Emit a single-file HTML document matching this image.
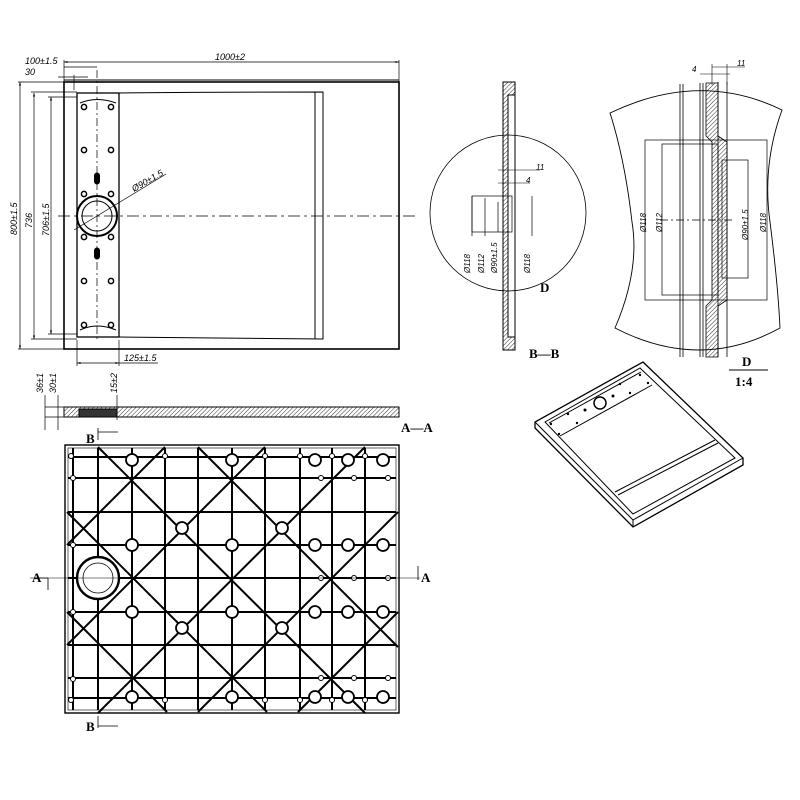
<!DOCTYPE html>
<html><head><meta charset="utf-8"><style>
html,body{margin:0;padding:0;background:#fff}
svg{display:block}
text{font-family:"Liberation Sans",sans-serif;font-style:italic;fill:#000}
.b{font-family:"Liberation Serif",serif;font-style:normal;font-weight:bold}
</style></head><body>
<svg width="800" height="800" viewBox="0 0 800 800" xmlns="http://www.w3.org/2000/svg">
<defs>
<pattern id="h" width="3" height="3" patternUnits="userSpaceOnUse" patternTransform="rotate(45)"><line x1="0" y1="0" x2="0" y2="3" stroke="#000" stroke-width="0.8"/></pattern>
<marker id="a" viewBox="0 0 10 10" refX="10" refY="5" markerWidth="5" markerHeight="5" orient="auto-start-reverse"><path d="M0,2 L10,5 L0,8z" fill="#000"/></marker>
</defs>
<g fill="none" stroke="#000" stroke-width="1">
<!-- TOP VIEW -->
<rect x="64" y="82" width="335" height="267" stroke-width="1.6"/>
<line x1="64" y1="80" x2="399" y2="80"/>
<rect x="77" y="93" width="42" height="244" stroke-width="1.3"/>
<path d="M119,93 Q220,92 323,92 L323,339 Q220,338 119,337"/>
<line x1="315" y1="92" x2="315" y2="339"/>
<path d="M80,103 Q97,96 116,103 M80,330 Q97,322 116,330"/>
<line x1="97" y1="70" x2="97" y2="340" stroke-dasharray="8,3,2,3" stroke-width="0.7"/>
<line x1="58" y1="216" x2="415" y2="216" stroke-dasharray="12,4,3,4" stroke-width="0.7"/>
<circle cx="97" cy="216" r="20" stroke-width="2"/>
<circle cx="97" cy="216" r="15"/>
<g fill="#fff" stroke-width="1.5">
<circle cx="84" cy="107" r="2.6"/><circle cx="111" cy="107" r="2.6"/>
<circle cx="84" cy="150" r="2.6"/><circle cx="111" cy="150" r="2.6"/>
<circle cx="84" cy="194" r="2.6"/><circle cx="111" cy="194" r="2.6"/>
<circle cx="84" cy="237" r="2.6"/><circle cx="111" cy="237" r="2.6"/>
<circle cx="84" cy="281" r="2.6"/><circle cx="111" cy="281" r="2.6"/>
<circle cx="84" cy="325" r="2.6"/><circle cx="111" cy="325" r="2.6"/>
</g>
<rect x="94.5" y="173" width="5" height="11" rx="2.5" fill="#000"/>
<rect x="94.5" y="248" width="5" height="11" rx="2.5" fill="#000"/>
<line x1="74" y1="230" x2="166" y2="174" stroke-width="0.7"/>
<!-- dims top -->
<line x1="64" y1="62" x2="399" y2="62" marker-start="url(#a)" marker-end="url(#a)" stroke-width="0.7"/>
<line x1="64" y1="60" x2="64" y2="82" stroke-width="0.7"/><line x1="399" y1="60" x2="399" y2="82" stroke-width="0.7"/>
<line x1="64" y1="67" x2="97" y2="67" stroke-width="0.7"/><line x1="58" y1="77" x2="88" y2="77" stroke-width="0.7"/>
<line x1="74" y1="75" x2="74" y2="90" stroke-width="0.7"/>
<line x1="18" y1="82" x2="64" y2="82" stroke-width="0.7"/><line x1="18" y1="349" x2="64" y2="349" stroke-width="0.7"/>
<line x1="20" y1="82" x2="20" y2="349" marker-start="url(#a)" marker-end="url(#a)" stroke-width="0.7"/>
<line x1="31" y1="92" x2="77" y2="92" stroke-width="0.7"/><line x1="31" y1="339" x2="77" y2="339" stroke-width="0.7"/>
<line x1="34" y1="93" x2="34" y2="339" marker-start="url(#a)" marker-end="url(#a)" stroke-width="0.7"/>
<line x1="48" y1="97" x2="77" y2="97" stroke-width="0.7"/><line x1="48" y1="334" x2="77" y2="334" stroke-width="0.7"/>
<line x1="51" y1="97" x2="51" y2="334" marker-start="url(#a)" marker-end="url(#a)" stroke-width="0.7"/>
<line x1="77" y1="340" x2="77" y2="366" stroke-width="0.7"/><line x1="119" y1="340" x2="119" y2="366" stroke-width="0.7"/>
<line x1="77" y1="363" x2="119" y2="363" marker-start="url(#a)" marker-end="url(#a)" stroke-width="0.7"/>
<line x1="119" y1="363" x2="158" y2="363" stroke-width="0.7"/>
<!-- SECTION A-A -->
<path d="M64,407 L399,407 L399,417 L64,417Z" fill="url(#h)"/>
<rect x="79" y="409" width="38" height="8" fill="#333"/>
<line x1="45" y1="407" x2="64" y2="407" stroke-width="0.7"/><line x1="45" y1="417" x2="64" y2="417" stroke-width="0.7"/>
<line x1="45" y1="395" x2="45" y2="430" stroke-width="0.7"/><line x1="58" y1="395" x2="58" y2="430" stroke-width="0.7"/>
<line x1="117" y1="395" x2="117" y2="420" stroke-width="0.7"/>
<!-- B marks -->
<path d="M98,428 L98,440 M98,432 L118,432" stroke-width="0.8"/>
<path d="M98,716 L98,728 M98,726 L118,726" stroke-width="0.8"/>
<path d="M48,578 L48,590 M48,578 L35,578" stroke-width="0.8"/>
<path d="M418,566 L418,580" stroke-width="0.8"/>
<!-- BOTTOM GRID -->
<rect x="65" y="445" width="334" height="268" stroke-width="1.4"/>
<rect x="68" y="448" width="328" height="262" stroke-width="0.6"/>
<g stroke-width="2">
<line x1="73" y1="448" x2="73" y2="710"/><line x1="98" y1="448" x2="98" y2="710"/><line x1="132" y1="448" x2="132" y2="710"/><line x1="165" y1="448" x2="165" y2="710"/><line x1="198" y1="448" x2="198" y2="710"/><line x1="232" y1="448" x2="232" y2="710"/><line x1="265" y1="448" x2="265" y2="710"/><line x1="300" y1="448" x2="300" y2="710"/><line x1="332" y1="448" x2="332" y2="710"/><line x1="365" y1="448" x2="365" y2="710"/>
<line x1="68" y1="457" x2="396" y2="457"/><line x1="68" y1="478" x2="396" y2="478"/><line x1="68" y1="512" x2="396" y2="512"/><line x1="68" y1="545" x2="396" y2="545"/><line x1="68" y1="578" x2="396" y2="578"/><line x1="68" y1="612" x2="396" y2="612"/><line x1="68" y1="645" x2="396" y2="645"/><line x1="68" y1="678" x2="396" y2="678"/><line x1="68" y1="698" x2="396" y2="698"/>
<line x1="98" y1="447" x2="365" y2="713"/><line x1="198" y1="447" x2="398" y2="647"/><line x1="67" y1="512" x2="267" y2="712"/><line x1="67" y1="612" x2="167" y2="712"/><line x1="165" y1="447" x2="67" y2="545"/><line x1="265" y1="447" x2="67" y2="645"/><line x1="365" y1="447" x2="98" y2="713"/><line x1="398" y1="512" x2="198" y2="712"/><line x1="398" y1="612" x2="298" y2="712"/>
</g>
<g fill="#fff" stroke-width="1.8">
<circle cx="132" cy="460" r="6"/><circle cx="232" cy="460" r="6"/><circle cx="315" cy="460" r="6"/><circle cx="348" cy="460" r="6"/><circle cx="383" cy="460" r="6"/>
<circle cx="182" cy="528" r="6"/><circle cx="282" cy="528" r="6"/><circle cx="182" cy="628" r="6"/><circle cx="282" cy="628" r="6"/>
<circle cx="132" cy="545" r="6"/><circle cx="232" cy="545" r="6"/><circle cx="315" cy="545" r="6"/><circle cx="348" cy="545" r="6"/><circle cx="383" cy="545" r="6"/>
<circle cx="132" cy="612" r="6"/><circle cx="232" cy="612" r="6"/><circle cx="315" cy="612" r="6"/><circle cx="348" cy="612" r="6"/><circle cx="383" cy="612" r="6"/>
<circle cx="132" cy="697" r="6"/><circle cx="232" cy="697" r="6"/><circle cx="315" cy="697" r="6"/><circle cx="348" cy="697" r="6"/><circle cx="383" cy="697" r="6"/>
<circle cx="98" cy="578" r="21" stroke-width="2.4"/><circle cx="98" cy="578" r="15" stroke-width="0.8"/>
</g>
<g fill="#fff" stroke-width="1">
<circle cx="71" cy="456" r="2.5"/><circle cx="73" cy="478" r="2.5"/><circle cx="73" cy="545" r="2.5"/><circle cx="73" cy="612" r="2.5"/><circle cx="73" cy="679" r="2.5"/><circle cx="71" cy="700" r="2.5"/>
<circle cx="165" cy="456" r="2.5"/><circle cx="265" cy="456" r="2.5"/><circle cx="300" cy="456" r="2.5"/><circle cx="332" cy="456" r="2.5"/><circle cx="365" cy="456" r="2.5"/>
<circle cx="165" cy="700" r="2.5"/><circle cx="265" cy="700" r="2.5"/><circle cx="300" cy="700" r="2.5"/><circle cx="332" cy="700" r="2.5"/><circle cx="365" cy="700" r="2.5"/>
<circle cx="321" cy="478" r="2.5"/><circle cx="354" cy="478" r="2.5"/><circle cx="388" cy="478" r="2.5"/>
<circle cx="321" cy="578" r="2.5"/><circle cx="354" cy="578" r="2.5"/><circle cx="388" cy="578" r="2.5"/>
<circle cx="321" cy="678" r="2.5"/><circle cx="354" cy="678" r="2.5"/><circle cx="388" cy="678" r="2.5"/>
</g>
<line x1="30" y1="578" x2="420" y2="578" stroke-width="0.6"/>
<!-- B-B -->
<rect x="503" y="82" width="12" height="268"/>
<path d="M503,82 L515,82 L515,95 L508,95 L508,337 L515,337 L515,350 L503,350Z" fill="url(#h)"/>
<circle cx="508" cy="213" r="78" stroke-width="0.8"/>
<rect x="472" y="196" width="40" height="36" stroke-width="0.7"/>
<line x1="472" y1="196" x2="472" y2="236" stroke-width="0.7"/><line x1="485" y1="198" x2="485" y2="236" stroke-width="0.7"/><line x1="498" y1="202" x2="498" y2="232" stroke-width="0.7"/><line x1="532" y1="196" x2="532" y2="236" stroke-width="0.7"/>
<line x1="498" y1="170" x2="540" y2="170" stroke-width="0.6"/><line x1="498" y1="183" x2="530" y2="183" stroke-width="0.6"/>
<!-- D detail -->
<path d="M610,113 Q700,70 782,110 Q762,165 770,222 Q778,285 780,328 Q700,372 615,328 Q640,270 632,222 Q625,160 610,113Z" stroke-width="0.9"/>
<g stroke-width="0.8">
<line x1="680" y1="84" x2="680" y2="357"/><line x1="683" y1="84" x2="683" y2="357"/><line x1="700" y1="83" x2="700" y2="357"/><line x1="703" y1="83" x2="703" y2="357"/>
<line x1="718" y1="82" x2="718" y2="357"/><line x1="727" y1="82" x2="727" y2="357"/>
</g>
<path d="M706,83 L718,83 L718,136 L727,142 L727,300 L718,306 L718,357 L706,357 L706,306 L712,300 L712,142 L706,136Z" fill="url(#h)" stroke-width="0.8"/>
<rect x="645" y="140" width="122" height="160" stroke-width="0.7"/>
<rect x="662" y="144" width="56" height="151" stroke-width="0.7"/>
<rect x="722" y="160" width="26" height="118" stroke-width="0.7"/>
<line x1="660" y1="220" x2="735" y2="220" stroke-dasharray="8,3,2,3" stroke-width="0.7"/>
<line x1="712" y1="67" x2="745" y2="67" stroke-width="0.6"/><line x1="700" y1="74" x2="730" y2="74" stroke-width="0.6"/>
<line x1="712" y1="64" x2="712" y2="85" stroke-width="0.6"/><line x1="727" y1="64" x2="727" y2="85" stroke-width="0.6"/>
<line x1="729" y1="370" x2="768" y2="370" stroke-width="1"/>
<!-- 3D -->
<path d="M643,362 L743,458 L743,465 L633,527 L535,428 L535,422Z" stroke-width="1.3"/>
<path d="M535,422 L633,520 L743,458 M633,520 L633,527"/>
<path d="M545,422 L640,368 L735,458 L633,514Z"/>
<path d="M549,423 L641,372 M560,436 L652,385 M615,492 L715,440 M618,495 L718,443"/>
<circle cx="600" cy="403" r="6" stroke-width="1.5"/>
<g fill="#000" stroke="none">
<circle cx="551" cy="424" r="1.2"/><circle cx="559" cy="434" r="1.2"/><circle cx="568" cy="414" r="1.2"/><circle cx="577" cy="423" r="1.2"/>
<circle cx="585" cy="410" r="1.5"/><circle cx="613" cy="396" r="1.5"/><circle cx="620" cy="384" r="1.2"/><circle cx="630" cy="393" r="1.2"/><circle cx="640" cy="375" r="1.2"/><circle cx="648" cy="383" r="1.2"/>
</g>
</g>
<g font-size="9">
<text x="215" y="60">1000±2</text>
<text x="25" y="64">100±1.5</text>
<text x="25" y="75">30</text>
<text transform="translate(17,235) rotate(-90)">800±1.5</text>
<text transform="translate(32,228) rotate(-90)">736</text>
<text transform="translate(49,236) rotate(-90)">706±1.5</text>
<text transform="translate(134,192) rotate(-30)">Ø90±1.5</text>
<text x="124" y="361">125±1.5</text>
<text transform="translate(43,393) rotate(-90)">36±1</text>
<text transform="translate(56,393) rotate(-90)">30±1</text>
<text transform="translate(117,393) rotate(-90)">15±2</text>
<text x="536" y="170" font-size="8">11</text>
<text x="526" y="183" font-size="8">4</text>
<text transform="translate(470,273) rotate(-90)" font-size="8">Ø118</text>
<text transform="translate(484,273) rotate(-90)" font-size="8">Ø112</text>
<text transform="translate(497,273) rotate(-90)" font-size="8">Ø90±1.5</text>
<text transform="translate(530,273) rotate(-90)" font-size="8">Ø118</text>
<text x="737" y="66" font-size="8">11</text>
<text x="692" y="72" font-size="8">4</text>
<text transform="translate(646,232) rotate(-90)" font-size="8">Ø118</text>
<text transform="translate(662,232) rotate(-90)" font-size="8">Ø112</text>
<text transform="translate(748,240) rotate(-90)" font-size="8">Ø90±1.5</text>
<text transform="translate(766,232) rotate(-90)" font-size="8">Ø118</text>
</g>
<g class="b" font-size="13">
<text class="b" x="401" y="432">A—A</text>
<text class="b" x="86" y="443">B</text>
<text class="b" x="86" y="731">B</text>
<text class="b" x="32" y="582">A</text>
<text class="b" x="421" y="582">A</text>
<text class="b" x="540" y="292">D</text>
<text class="b" x="529" y="358">B—B</text>
<text class="b" x="742" y="366">D</text>
<text class="b" x="735" y="386">1:4</text>
</g>
</svg>
</body></html>
